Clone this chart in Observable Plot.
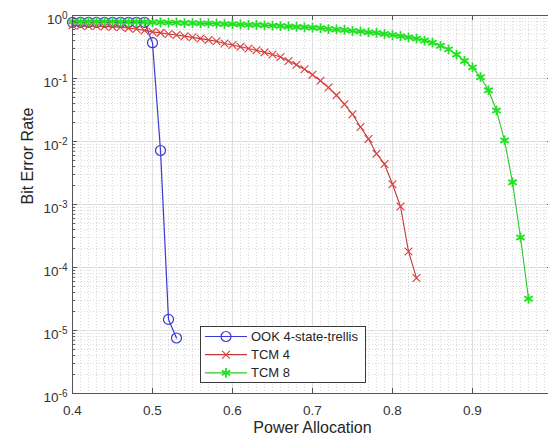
<!DOCTYPE html>
<html><head><meta charset="utf-8">
<script src="https://cdn.jsdelivr.net/npm/d3@7"></script>
<script src="https://cdn.jsdelivr.net/npm/@observablehq/plot@0.6"></script>
<style>html,body{margin:0;padding:0;background:#fff;overflow:hidden}</style>
</head><body><div id="chart"></div>
<script>
// ---- data ----
const seriesNames = ["OOK 4-state-trellis", "TCM 4", "TCM 8"];

const powerOOK = [0.40,0.41,0.42,0.43,0.44,0.45,0.46,0.47,0.48,0.49,0.50,0.51,0.52,0.53];
const berOOK   = [0.78,0.78,0.78,0.78,0.78,0.78,0.78,0.78,0.78,0.78,0.37,0.0072,0.000015,0.0000076];

const powerTCM4 = [0.40,0.41,0.42,0.43,0.44,0.45,0.46,0.47,0.48,0.49,0.50,0.51,0.52,0.53,0.54,0.55,0.56,0.57,0.58,0.59,
                   0.60,0.61,0.62,0.63,0.64,0.65,0.66,0.67,0.68,0.69,0.70,0.71,0.72,0.73,0.74,0.75,0.76,0.77,0.78,0.79,
                   0.80,0.81,0.82,0.83];
const berTCM4   = [0.70,0.69,0.68,0.68,0.67,0.66,0.65,0.63,0.61,0.58,0.55,0.53,0.51,0.49,0.47,0.45,0.43,0.41,0.39,0.36,
                   0.34,0.32,0.30,0.28,0.26,0.24,0.22,0.19,0.165,0.14,0.115,0.092,0.072,0.054,0.039,0.027,0.017,0.011,0.0064,0.0044,
                   0.0021,0.00093,0.00018,0.000068];

const powerTCM8 = [0.40,0.41,0.42,0.43,0.44,0.45,0.46,0.47,0.48,0.49,0.50,0.51,0.52,0.53,0.54,0.55,0.56,0.57,0.58,0.59,
                   0.60,0.61,0.62,0.63,0.64,0.65,0.66,0.67,0.68,0.69,0.70,0.71,0.72,0.73,0.74,0.75,0.76,0.77,0.78,0.79,
                   0.80,0.81,0.82,0.83,0.84,0.85,0.86,0.87,0.88,0.89,0.90,0.91,0.92,0.93,0.94,0.95,0.96,0.97];
const berTCM8   = [0.80,0.80,0.80,0.80,0.80,0.80,0.79,0.79,0.79,0.79,0.78,0.78,0.77,0.77,0.76,0.76,0.75,0.75,0.74,0.73,
                   0.73,0.72,0.71,0.71,0.70,0.69,0.68,0.67,0.66,0.65,0.64,0.63,0.61,0.60,0.59,0.57,0.56,0.54,0.53,0.51,
                   0.49,0.47,0.45,0.43,0.40,0.37,0.33,0.29,0.24,0.19,0.15,0.105,0.065,0.031,0.0104,0.00225,0.0003,0.000032];

const xMajorTicks = [0.4,0.5,0.6,0.7,0.8,0.9,1.0];
const xLabelTicks = [0.4,0.5,0.6,0.7,0.8,0.9];
const xTickLabels = ["0.4","0.5","0.6","0.7","0.8","0.9"];
const yMajorTicks = [1e-6,1e-5,1e-4,1e-3,1e-2,1e-1,1];
const yTickLabels = ["10^-6","10^-5","10^-4","10^-3","10^-2","10^-1","10^0"];

// ---- styling ----
const colBlue = "#3a3ad2", colRedLine = "#c23a3a", colRed = "#e03a3a", colGreenLine = "#2cc82c", colGreen = "#22e022";
const axisCol = "#555";

const xMinor = d3.range(41, 100).filter(k => k % 10 !== 0).map(k => k / 100);
const yMinor = [];
for (let e = -6; e < 0; e++) for (let k = 2; k <= 9; k++) yMinor.push(k * Math.pow(10, e));

const ook  = powerOOK.map((x, i) => ({x, y: berOOK[i]}));
const tcm4 = powerTCM4.map((x, i) => ({x, y: berTCM4[i]}));
const tcm8 = powerTCM8.map((x, i) => ({x, y: berTCM8[i]}));

const xLabelOf = d => { const i = xLabelTicks.findIndex(t => Math.abs(t - d) < 1e-9); return i < 0 ? "" : xTickLabels[i]; };
const yLabelOf = d => { const i = yMajorTicks.findIndex(t => Math.abs(Math.log10(t) - Math.log10(d)) < 1e-6); return i < 0 ? "" : yTickLabels[i]; };

const W = 548, H = 441, mL = 72, mT = 15, mB = 48, mR = -4;
const font = "'Liberation Sans', Arial, Helvetica, sans-serif";

const plot = Plot.plot({
  width: W, height: H,
  marginLeft: mL, marginRight: mR, marginTop: mT, marginBottom: mB,
  style: {fontFamily: font, background: "#fff", overflow: "hidden", color: "#262626"},
  x: {domain: [0.4, 1]},
  y: {type: "log", domain: [1e-6, 1]},
  marks: [
    Plot.ruleX(xMinor, {stroke: "#c8c8c8", strokeWidth: 0.7, strokeDasharray: "1,2"}),
    Plot.ruleY(yMinor, {stroke: "#c8c8c8", strokeWidth: 0.7, strokeDasharray: "1,2"}),
    Plot.ruleX(xMajorTicks, {stroke: "#dedede", strokeWidth: 1}),
    Plot.ruleY(yMajorTicks, {stroke: "#dedede", strokeWidth: 1}),

    Plot.line(ook, {x: "x", y: "y", stroke: colBlue, strokeWidth: 1.2}),
    Plot.dot(ook, {x: "x", y: "y", r: 5, symbol: "circle", stroke: colBlue, fill: "none", strokeWidth: 1.2}),
    Plot.line(tcm4, {x: "x", y: "y", stroke: colRedLine, strokeWidth: 1.1}),
    Plot.dot(tcm4, {x: "x", y: "y", r: 3.6, symbol: "times", stroke: colRed, strokeWidth: 1.1}),
    Plot.line(tcm8, {x: "x", y: "y", stroke: colGreenLine, strokeWidth: 1.1}),
    Plot.dot(tcm8, {x: "x", y: "y", r: 4.6, symbol: "asterisk", stroke: colGreen, strokeWidth: 1.8}),

    Plot.frame({stroke: axisCol, strokeWidth: 1}),
    // inward ticks (MATLAB style) on all sides
    Plot.ruleX(xMajorTicks, {y1: 1e-6, y2: 1e-6, insetBottom: 5, stroke: axisCol}),
    Plot.ruleX(xMajorTicks, {y1: 1, y2: 1, insetTop: 5, stroke: axisCol}),
    Plot.ruleY(yMajorTicks, {x1: 0.4, x2: 0.4, insetRight: -5, stroke: axisCol}),
    Plot.ruleY(yMinor, {x1: 0.4, x2: 0.4, insetRight: -3, stroke: axisCol}),
    Plot.ruleY(yMajorTicks, {x1: 1, x2: 1, insetLeft: -5, stroke: axisCol}),
    Plot.ruleY(yMinor, {x1: 1, x2: 1, insetLeft: -3, stroke: axisCol}),

    Plot.axisX({ticks: xLabelTicks, tickFormat: xLabelOf, tickSize: 0, tickPadding: 12, fontSize: 13.5, label: null, fill: "#333"}),
    Plot.axisY({ticks: yMajorTicks, tickFormat: yLabelOf, tickSize: 0, tickPadding: 5, fontSize: 13.5, label: null, fill: "#333"}),
    Plot.text(["Power Allocation"], {frameAnchor: "bottom", text: d => d, dy: 39, fontSize: 16, fill: "#262626"}),
    Plot.text(["Bit Error Rate"], {frameAnchor: "left", text: d => d, dx: -45, rotate: -90, fontSize: 16, fill: "#262626"})
  ]
});

// superscript exponents on log tick labels
d3.select(plot).selectAll("text").each(function () {
  const t = d3.select(this);
  const s = t.text();
  if (!/^10\^/.test(s)) return;
  const parts = s.split("^");
  t.text(null);
  t.append("tspan").attr("dy", "4.5").text(parts[0]);
  t.append("tspan").attr("dy", "-5.5").attr("font-size", "10px").text(parts[1]);
});

// legend box
const svg = d3.select(plot);
const lg = svg.append("g").attr("font-family", font).attr("font-size", 13).attr("text-anchor", "start");
lg.append("rect").attr("x", 200.5).attr("y", 326.5).attr("width", 165).attr("height", 56)
  .attr("fill", "#fff").attr("stroke", "#262626").attr("stroke-width", 0.9);
const legendItems = [
  {name: seriesNames[0], line: colBlue, mark: colBlue, sym: d3.symbolCircle, r: 5, sw: 1.2},
  {name: seriesNames[1], line: colRedLine, mark: colRed, sym: d3.symbolTimes, r: 3.6, sw: 1.1},
  {name: seriesNames[2], line: colGreenLine, mark: colGreen, sym: d3.symbolAsterisk, r: 4.6, sw: 1.8}
];
legendItems.forEach((it, i) => {
  const yy = 336.5 + i * 18.2;
  lg.append("line").attr("x1", 205).attr("x2", 247).attr("y1", yy).attr("y2", yy)
    .attr("stroke", it.line).attr("stroke-width", 1.2);
  lg.append("path").attr("d", d3.symbol(it.sym, Math.PI * it.r * it.r)())
    .attr("transform", `translate(226,${yy})`).attr("fill", "none")
    .attr("stroke", it.mark).attr("stroke-width", it.sw);
  lg.append("text").attr("x", 251).attr("y", yy).attr("dy", "0.35em").attr("text-anchor", "start")
    .attr("fill", "#262626").text(it.name);
});

document.getElementById("chart").appendChild(plot);
</script>
</body></html>
